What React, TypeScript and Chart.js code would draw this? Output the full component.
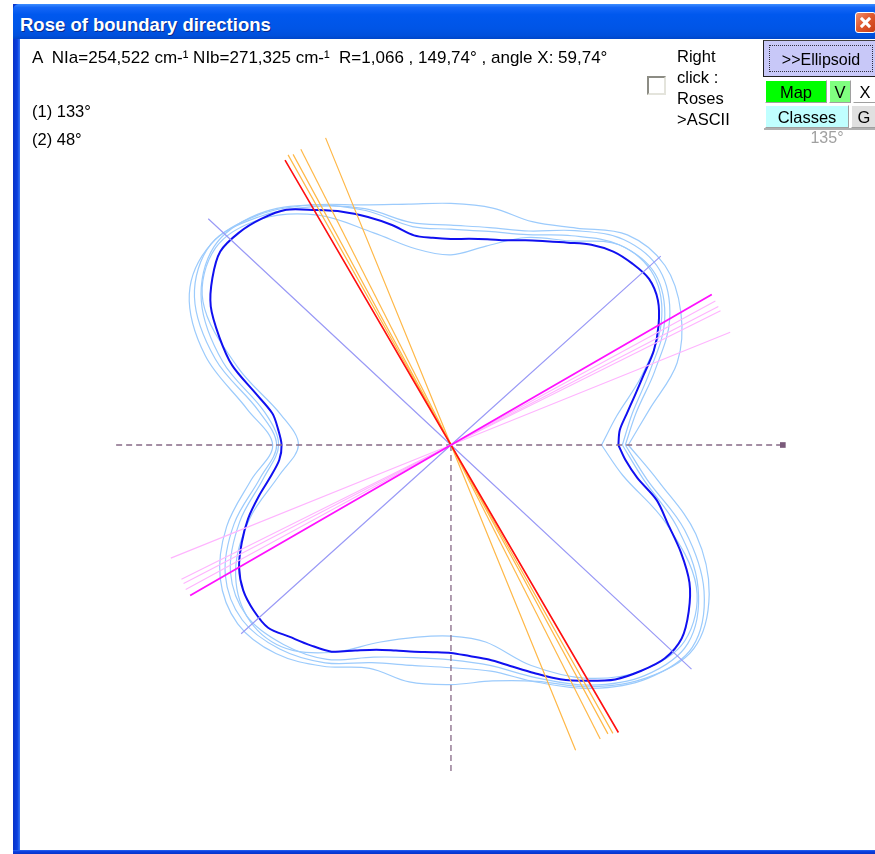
import React, { useEffect, useRef } from "react";
import { Chart, registerables } from "chart.js";

Chart.register(...registerables);

// ---------------- data ----------------
// main rose (dark blue), radius every 5 degrees, counter-clockwise from +x
const darkStepDeg = 5;
const darkRadii = [
  169, 171, 180, 192, 207, 226, 242, 255, 261, 259,
  255, 247, 236, 227, 220, 214, 211, 209, 208, 210,
  215, 230, 245, 260, 274, 290, 298, 303, 304, 294,
  280, 258, 235, 205, 183, 175, 171, 174, 185, 201,
  218, 233, 247, 256, 260, 261, 253, 247, 241, 229,
  220, 215, 212, 210, 210, 214, 220, 231, 245, 261,
  275, 289, 298, 305, 304, 293, 278, 256, 233, 215,
  191, 177,
];

// secondary roses (light blue), radius every 10 degrees
const lightStepDeg = 10;
const lightRadii1 = [
  179, 203, 243, 268, 282, 277, 253, 240, 243, 244,
  247, 258, 280, 303, 316, 305, 264, 209, 180, 205,
  241, 269, 281, 275, 258, 240, 243, 242, 242, 254,
  282, 307, 320, 301, 263, 213,
];
const lightRadii2 = [
  173, 186, 213, 249, 269, 264, 244, 226, 219, 218,
  224, 252, 280, 304, 312, 291, 245, 191, 174, 192,
  227, 257, 269, 263, 250, 228, 218, 217, 226, 250,
  280, 304, 312, 288, 243, 197,
];
const lightRadii3 = [
  176, 190, 219, 255, 275, 271, 250, 230, 223, 222,
  228, 254, 278, 301, 316, 299, 253, 197, 176, 196,
  233, 263, 275, 269, 254, 234, 226, 225, 232, 255,
  284, 308, 318, 295, 251, 201,
];
const lightRadii4 = [
  152, 170, 205, 245, 267, 264, 238, 223, 204, 192,
  201, 228, 268, 298, 310, 289, 229, 174, 154, 176,
  216, 251, 269, 266, 242, 212, 197, 193, 202, 237,
  272, 298, 308, 286, 231, 176,
];

// direction lines through the centre: angle (deg), length forward, length backward
const guideAngles = [137, 42];
const guideLenFwd = [335, 285];
const guideLenBack = [332, 285];

const orangeAngles = [112.2, 116.9, 118.5, 119.3];
const orangeLenFwd = [335, 335, 334, 336];
const orangeLenBack = [333, 333, 332, 334];

const redAngles = [120.2];
const redLenFwd = [333];
const redLenBack = [336];

const pinkAngles = [28.6, 27.4, 26.5, 22];
const pinkLenFwd = [304, 304, 304, 304];
const pinkLenBack = [305, 304, 304, 305];

const magentaAngles = [30];
const magentaLenFwd = [304];
const magentaLenBack = [304];

// reference axes extents
const axisLeft = 338;
const axisRight = 335;
const axisDown = 330;

// ---------------- helpers ----------------
const rad = (d: number) => (d * Math.PI) / 180;

function rosePoints(radii: number[], stepDeg: number) {
  const pts = radii.map((r, i) => ({
    x: r * Math.cos(rad(i * stepDeg)),
    y: r * Math.sin(rad(i * stepDeg)),
  }));
  pts.push({ ...pts[0] });
  return pts;
}

function linePoints(a: number, f: number, b: number) {
  return [
    { x: f * Math.cos(rad(a)), y: f * Math.sin(rad(a)) },
    { x: 0, y: 0 },
    { x: -b * Math.cos(rad(a)), y: -b * Math.sin(rad(a)) },
  ];
}

function lineSets(angles: number[], fwd: number[], back: number[], color: string, width: number) {
  return angles.map((a, i) => ({
    data: linePoints(a, fwd[i], back[i]),
    showLine: true,
    borderColor: color,
    borderWidth: width,
    pointRadius: 0,
    tension: 0,
    fill: false,
  }));
}

const CANVAS_W = 855;
const CANVAS_H = 811;
const CX = 431; // centre inside canvas
const CY = 406;

function RoseChart() {
  const ref = useRef<HTMLCanvasElement | null>(null);
  useEffect(() => {
    if (!ref.current) return;
    const curve = (radii: number[], step: number, color: string, width: number, tension: number) => ({
      data: rosePoints(radii, step),
      showLine: true,
      borderColor: color,
      borderWidth: width,
      pointRadius: 0,
      tension,
      fill: false,
    });
    const light = "#9ccbfc";
    const bottomToTop: any[] = [
      curve(lightRadii1, lightStepDeg, light, 1.2, 0.35),
      curve(lightRadii2, lightStepDeg, light, 1.2, 0.35),
      curve(lightRadii3, lightStepDeg, light, 1.2, 0.35),
      curve(lightRadii4, lightStepDeg, light, 1.2, 0.35),
      curve(darkRadii, darkStepDeg, "#1010f0", 2, 0.3),
      {
        data: [{ x: -axisLeft, y: 0 }, { x: axisRight, y: 0 }],
        showLine: true, borderColor: "#866a86", borderWidth: 1.3, borderDash: [6, 4],
        pointRadius: 0, fill: false,
      },
      {
        data: [{ x: 0, y: 0 }, { x: 0, y: -axisDown }],
        showLine: true, borderColor: "#866a86", borderWidth: 1.3, borderDash: [6, 4],
        pointRadius: 0, fill: false,
      },
      ...lineSets(guideAngles, guideLenFwd, guideLenBack, "#9a9af6", 1.2),
      ...lineSets(orangeAngles, orangeLenFwd, orangeLenBack, "#ffb848", 1.2),
      ...lineSets(redAngles, redLenFwd, redLenBack, "#ff1010", 1.6),
      ...lineSets(pinkAngles, pinkLenFwd, pinkLenBack, "#ffb4ff", 1.1),
      ...lineSets(magentaAngles, magentaLenFwd, magentaLenBack, "#ff10ff", 1.8),
      {
        data: [{ x: axisRight, y: 0 }],
        showLine: false, pointStyle: "rect", pointRadius: 4,
        backgroundColor: "#7a5a7a", borderColor: "#7a5a7a", borderWidth: 0,
      },
    ];
    const n = bottomToTop.length;
    const datasets = bottomToTop.map((d, i) => ({ ...d, order: n - i }));
    const chart = new Chart(ref.current, {
      type: "scatter",
      data: { datasets },
      options: {
        animation: false,
        responsive: false,
        events: [],
        layout: { padding: 0 },
        plugins: { legend: { display: false }, tooltip: { enabled: false } },
        scales: {
          x: { type: "linear", min: -CX, max: CANVAS_W - CX, display: false },
          y: { type: "linear", min: -(CANVAS_H - CY), max: CY, display: false },
        },
      },
    } as any);
    return () => chart.destroy();
  }, []);
  return (
    <canvas
      ref={ref}
      width={CANVAS_W}
      height={CANVAS_H}
      style={{ position: "absolute", left: 20, top: 39, width: CANVAS_W, height: CANVAS_H, display: "block" }}
    />
  );
}

const font = '"Liberation Sans", Arial, sans-serif';

function Txt(props: { x: number; y: number; size: number; children: any; color?: string; bold?: boolean }) {
  return (
    <div
      style={{
        position: "absolute",
        left: props.x,
        top: props.y,
        fontSize: props.size,
        lineHeight: `${props.size}px`,
        fontFamily: font,
        fontWeight: props.bold ? "bold" : "normal",
        color: props.color || "#000",
        whiteSpace: "pre",
      }}
    >
      {props.children}
    </div>
  );
}

function Btn(props: { x: number; y: number; w: number; h: number; bg: string; label: string; size?: number }) {
  const s = props.size || 16.5;
  return (
    <div
      style={{
        position: "absolute",
        left: props.x,
        top: props.y,
        width: props.w,
        height: props.h,
        background: props.bg,
        boxSizing: "border-box",
        borderTop: "1px solid #ffffff",
        borderLeft: "1px solid #ffffff",
        borderRight: "1px solid #a0a0a0",
        borderBottom: "1px solid #a0a0a0",
        fontFamily: font,
        fontSize: s,
        lineHeight: `${props.h - 1}px`,
        textAlign: "center",
        color: "#000",
        whiteSpace: "pre",
      }}
    >
      {props.label}
    </div>
  );
}

export default function App() {
  return (
    <div style={{ position: "absolute", left: 0, top: 0, width: 875, height: 854, overflow: "hidden", background: "#fff" }}>
      {/* window frame */}
      <div style={{ position: "absolute", left: 13, top: 4, width: 7, height: 850, background: "linear-gradient(90deg,#0733c8 0%,#0a3fe0 60%,#3a78f0 100%)" }} />
      <div style={{ position: "absolute", left: 13, top: 850, width: 862, height: 4, background: "linear-gradient(180deg,#2a66ee 0%,#0a3fe0 40%,#0733c8 100%)" }} />
      <div
        style={{
          position: "absolute",
          left: 13,
          top: 4,
          width: 862,
          height: 35,
          borderTopLeftRadius: 6,
          background: "linear-gradient(180deg,#3d8dff 0%,#1466f6 10%,#0058ee 30%,#0055e6 70%,#0050dc 90%,#0046c8 100%)",
        }}
      />
      <div style={{ position: "absolute", left: 20, top: 39, width: 855, height: 811, background: "#fff" }} />
      <Txt x={20} y={16} size={18.5} bold color="#ffffff">
        <span style={{ textShadow: "1px 1px 0 #0a2a8a" }}>Rose of boundary directions</span>
      </Txt>
      {/* close button */}
      <div
        style={{
          position: "absolute",
          left: 855,
          top: 12,
          width: 21,
          height: 21,
          boxSizing: "border-box",
          border: "1px solid #ffffff",
          borderRadius: 3,
          background: "linear-gradient(135deg,#f09070 0%,#e05a30 45%,#c83c14 100%)",
        }}
      >
        <div style={{ position: "absolute", left: 3, top: 8, width: 13, height: 3, background: "#fff", transform: "rotate(45deg)" }} />
        <div style={{ position: "absolute", left: 3, top: 8, width: 13, height: 3, background: "#fff", transform: "rotate(-45deg)" }} />
      </div>

      <RoseChart />

      {/* header texts */}
      <Txt x={32} y={49} size={17}>A  NIa=254,522 cm-¹ NIb=271,325 cm-¹  R=1,066 , 149,74° , angle X: 59,74°</Txt>
      <Txt x={32} y={102.5} size={16.5}>(1) 133°</Txt>
      <Txt x={32} y={130.5} size={16.5}>(2) 48°</Txt>

      {/* checkbox + label */}
      <div
        style={{
          position: "absolute",
          left: 647,
          top: 76,
          width: 19,
          height: 19,
          boxSizing: "border-box",
          borderTop: "2px solid #8c8c84",
          borderLeft: "2px solid #8c8c84",
          borderRight: "2px solid #e4e4dc",
          borderBottom: "2px solid #e4e4dc",
          background: "#ffffff",
        }}
      />
      <Txt x={677} y={48} size={16.5}>Right</Txt>
      <Txt x={677} y={69} size={16.5}>click :</Txt>
      <Txt x={677} y={90} size={16.5}>Roses</Txt>
      <Txt x={677} y={111} size={16.5}>&gt;ASCII</Txt>

      {/* buttons */}
      <div
        style={{
          position: "absolute",
          left: 763,
          top: 40,
          width: 114,
          height: 37,
          boxSizing: "border-box",
          border: "1px solid #202020",
          borderTop: "1px solid #404040",
          background: "#c8c8f8",
        }}
      >
        <div
          style={{
            position: "absolute",
            left: 5,
            top: 4,
            width: 104,
            height: 27,
            boxSizing: "border-box",
            border: "1px dotted #303040",
            fontFamily: font,
            fontSize: 16,
            lineHeight: "27px",
            textAlign: "center",
            color: "#000",
          }}
        >
          &gt;&gt;Ellipsoid
        </div>
      </div>
      <Btn x={765} y={80} w={62} h={23} bg="#00ff00" label="Map" />
      <Btn x={829} y={80} w={22} h={23} bg="#80ff80" label="V" />
      <Btn x={853} y={80} w={24} h={23} bg="#ffffff" label="X" />
      <Btn x={765} y={105} w={84} h={23} bg="#c0ffff" label="Classes" />
      <Btn x={851} y={105} w={26} h={23} bg="#e0e0e0" label="G" />
      <div style={{ position: "absolute", left: 764, top: 128, width: 111, height: 2, background: "#b0b0b0" }} />
      <div style={{ position: "absolute", left: 765, top: 130, width: 124, textAlign: "center", fontFamily: font, fontSize: 16, lineHeight: "16px", color: "#a0a0a0" }}>135°</div>
    </div>
  );
}
